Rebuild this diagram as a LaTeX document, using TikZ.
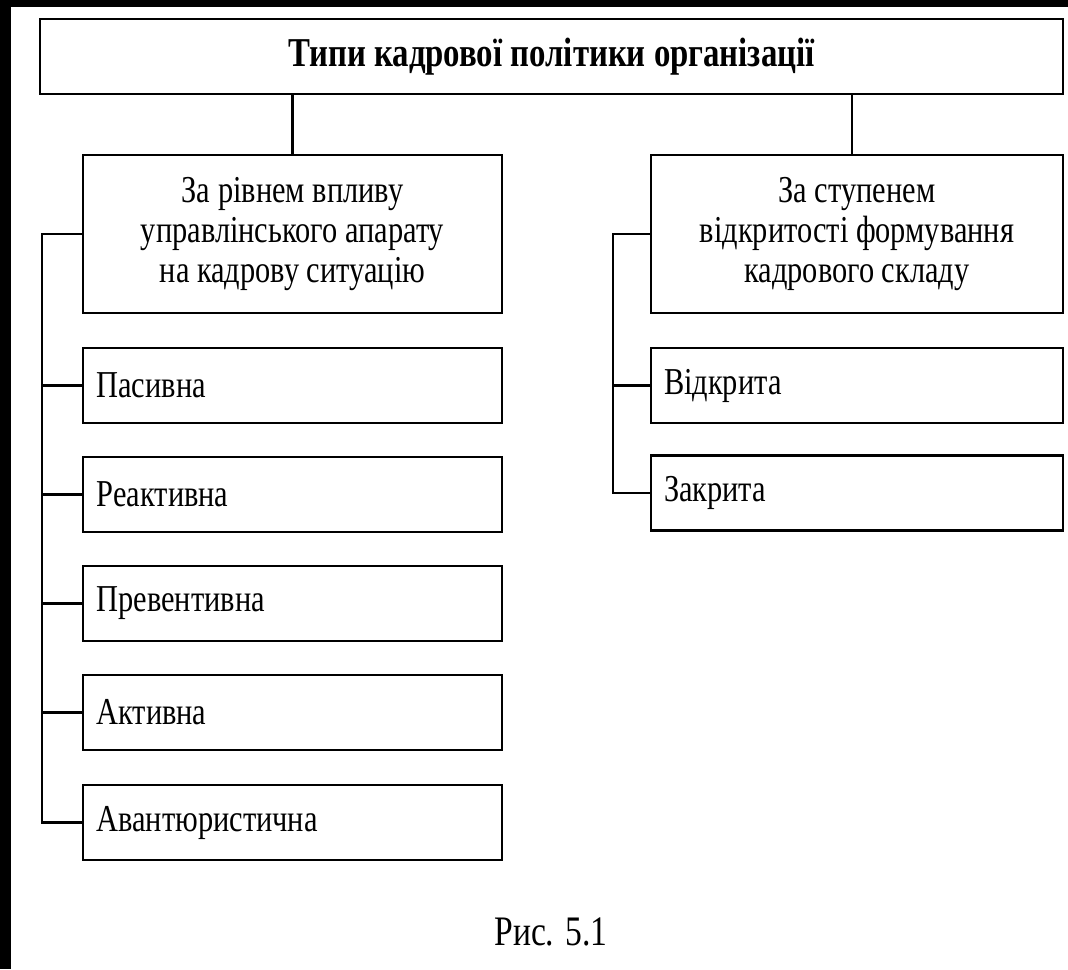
\documentclass[tikz,border=0pt]{standalone}
\usepackage{fontspec}
\setmainfont{Liberation Serif}[FakeStretch=0.8]
\begin{document}
\begin{tikzpicture}[x=1pt,y=-1pt,
  box/.style={draw=black,line width=2.8pt,fill=white,inner sep=0pt,outer sep=0pt},
  itembox/.style={box,minimum width=419pt,minimum height=75pt,text width=392pt,align=left,font=\fontsize{38}{40}\selectfont},
  itemboxr/.style={box,minimum width=412pt,minimum height=75pt,text width=386pt,align=left,font=\fontsize{38}{40}\selectfont},
  catbox/.style={box,minimum height=158pt,align=center,font=\fontsize{38}{40}\selectfont},
  conn/.style={line width=2.8pt,line cap=rect}]
\useasboundingbox (0,0) rectangle (1068,969);
\fill[black] (0,0) rectangle (1068,969);
\fill[white] (11,7) rectangle (1068,969);

\node[box,minimum width=1023pt,minimum height=75pt,font=\fontsize{41}{44}\selectfont\bfseries] (top) at (551.5,56.5) {Типи кадрової політики організації};

\node[catbox,minimum width=419pt] (catL) at (292.5,234) {За рівнем впливу\\управлінського апарату\\на кадрову ситуацію};
\node[catbox,minimum width=412pt] (catR) at (857,234) {За ступенем\\відкритості формування\\кадрового складу};

\node[itembox] (l1) at (292.5,385.5) {Пасивна};
\node[itembox] (l2) at (292.5,494.5) {Реактивна};
\node[itembox] (l3) at (292.5,603.5) {Превентивна};
\node[itembox] (l4) at (292.5,712.5) {Активна};
\node[itembox] (l5) at (292.5,822.5) {Авантюристична};

\node[itemboxr] (r1) at (857,385.5) {Відкрита};
\node[itemboxr] (r2) at (857,493) {Закрита};

\coordinate (bl) at (42,234);
\coordinate (br) at (613,234);
\coordinate (cr) at (852,155);

\draw[conn] (top.south -| catL.north) -- (catL.north);
\draw[conn] (top.south -| cr) -- (cr);

\draw[conn] (catL.west) -- (bl) -- (l5.west -| bl) -- (l5.west);
\foreach \n in {l1,l2,l3,l4} \draw[conn] (\n.west -| bl) -- (\n.west);

\draw[conn] (catR.west) -- (br) -- (r2.west -| br) -- (r2.west);
\draw[conn] (r1.west -| br) -- (r1.west);

\node[anchor=base,font=\fontsize{42}{44}\selectfont] (cap) at (551,945) {Рис. 5.1};
\end{tikzpicture}
\end{document}
